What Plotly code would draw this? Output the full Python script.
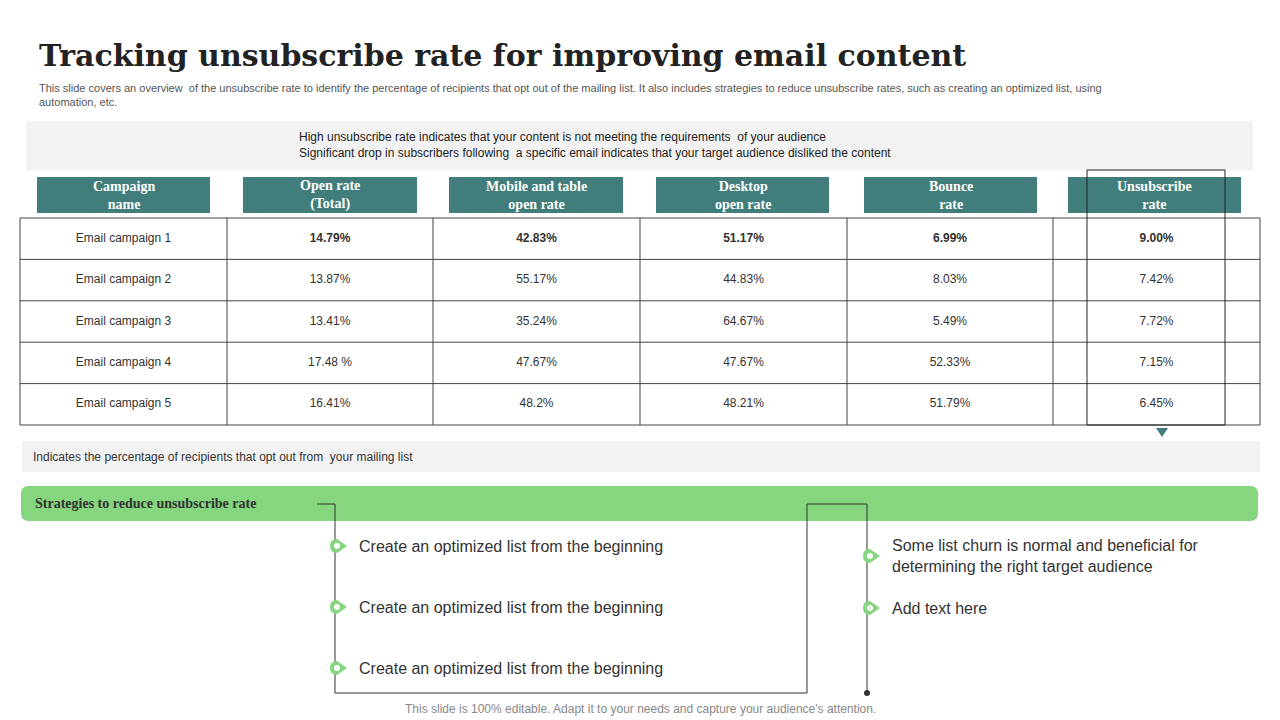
import plotly.graph_objects as go

campaigns = ["Email campaign 1","Email campaign 2","Email campaign 3","Email campaign 4","Email campaign 5"]
open_total = ["14.79%","13.87%","13.41%","17.48 %","16.41%"]
mobile = ["42.83%","55.17%","35.24%","47.67%","48.2%"]
desktop = ["51.17%","44.83%","64.67%","47.67%","48.21%"]
bounce = ["6.99%","8.03%","5.49%","52.33%","51.79%"]
unsub = ["9.00%","7.42%","7.72%","7.15%","6.45%"]
headers = ["Campaign<br>name","Open rate<br>(Total)","Mobile and table<br>open rate","Desktop<br>open rate","Bounce<br>rate","Unsubscribe<br>rate"]
left_items = ["Create an optimized list from the beginning"]*3
right_items = ["Some list churn is normal and beneficial for<br>determining the right target audience","Add text here"]

TEAL = "#417e7b"; GREEN = "#85d67e"
fig = go.Figure()
shapes = []; ann = []
def A(x, y, t, size=12, color="#333", xa="left", font="Arial", **kw):
    ann.append(dict(x=x, y=y, text=t, showarrow=False, xanchor=xa, yanchor="middle",
                    font=dict(size=size, color=color, family=font), align=xa if xa!="center" else "center", **kw))

A(37, 55, "<b>Tracking unsubscribe rate for improving email content</b>", 30, "#222", font="DejaVu Serif")
A(37, 95, "This slide covers an overview  of the unsubscribe rate to identify the percentage of recipients that opt out of the mailing list. It also includes strategies to reduce unsubscribe rates, such as creating an optimized list, using<br>automation, etc.", 11, "#555")
shapes.append(dict(type="rect", x0=26, x1=1253, y0=121, y1=170, fillcolor="#f2f2f2", line_width=0, layer="below"))
A(297, 137, "High unsubscribe rate indicates that your content is not meeting the requirements  of your audience", 12, "#222")
A(297, 153, "Significant drop in subscribers following  a specific email indicates that your target audience disliked the content", 12, "#222")

hx = [(37,210),(243,417),(449,623),(656,829),(864,1037),(1068,1241)]
for (a,b),h in zip(hx, headers):
    shapes.append(dict(type="rect", x0=a, x1=b, y0=177, y1=213, fillcolor=TEAL, line_width=0))
    A((a+b)/2, 195, "<b>"+h+"</b>", 14, "white", xa="center", font="Liberation Serif")

colx = [20,227,433,640,847,1053,1260]
rowy = [218,259.4,300.8,342.2,383.6,425]
for x in colx:
    shapes.append(dict(type="line", x0=x, x1=x, y0=218, y1=425, line=dict(color="#444", width=1)))
for y in rowy:
    shapes.append(dict(type="line", x0=20, x1=1260, y0=y, y1=y, line=dict(color="#444", width=1)))
cols = [campaigns, open_total, mobile, desktop, bounce, unsub]
xs=[]; ys=[]; ts=[]
for ci, col in enumerate(cols):
    cx = (colx[ci]+colx[ci+1])/2
    for ri, v in enumerate(col):
        xs.append(cx); ys.append((rowy[ri]+rowy[ri+1])/2)
        ts.append(f"<b>{v}</b>" if ri==0 and ci>0 else v)
fig.add_trace(go.Scatter(x=xs, y=ys, text=ts, mode="text", textfont=dict(size=12, color="#333", family="Arial"), hoverinfo="skip"))
shapes.append(dict(type="rect", x0=1087, x1=1225, y0=170, y1=425, line=dict(color="#222", width=1)))
shapes.append(dict(type="path", path="M1156,428 L1168,428 L1162,437 Z", fillcolor=TEAL, line_width=0))

shapes.append(dict(type="rect", x0=22, x1=1260, y0=441, y1=472, fillcolor="#f2f2f2", line_width=0, layer="below"))
A(31, 457, "Indicates the percentage of recipients that opt out from  your mailing list", 12, "#333")
shapes.append(dict(type="path", path="M29,486 L1250,486 Q1258,486 1258,494 L1258,513 Q1258,521 1250,521 L29,521 Q21,521 21,513 L21,494 Q21,486 29,486 Z", fillcolor=GREEN, line_width=0, layer="below"))
A(33, 503, "<b>Strategies to reduce unsubscribe rate</b>", 14, "#333", font="Liberation Serif")
shapes.append(dict(type="path", path="M317,504 L335,504 L335,693 L807,693 L807,504 L867,504 L867,693", line=dict(color="#333", width=1)))
shapes.append(dict(type="circle", x0=864, x1=870, y0=690, y1=696, fillcolor="#333", line_width=0))

def bullet(x, y):
    shapes.append(dict(type="path", path=f"M{x-8},{y} Q{x-8},{y-7} {x-1},{y-7} L{x+9},{y} L{x-1},{y+7} Q{x-8},{y+7} {x-8},{y} Z", fillcolor=GREEN, line_width=0))
    shapes.append(dict(type="circle", x0=x-4, x1=x+2, y0=y-3, y1=y+3, fillcolor="white", line_width=0))
for i, t in enumerate(left_items):
    y = 546 + 61*i; bullet(338, y); A(357, y, t, 16, "#333")
for i, t in enumerate(right_items):
    y = [556, 608][i]; bullet(871, y); A(890, y, t, 16, "#333")
A(640, 709, "This slide is 100% editable. Adapt it to your needs and capture your audience's attention.", 12, "#888", xa="center")

fig.update_layout(width=1280, height=720, margin=dict(l=0,r=0,t=0,b=0), plot_bgcolor="white", paper_bgcolor="white",
    xaxis=dict(range=[8,1288], visible=False, fixedrange=True), yaxis=dict(range=[728,8], visible=False, fixedrange=True),
    shapes=shapes, annotations=ann, showlegend=False)
fig.write_html("out.html")
